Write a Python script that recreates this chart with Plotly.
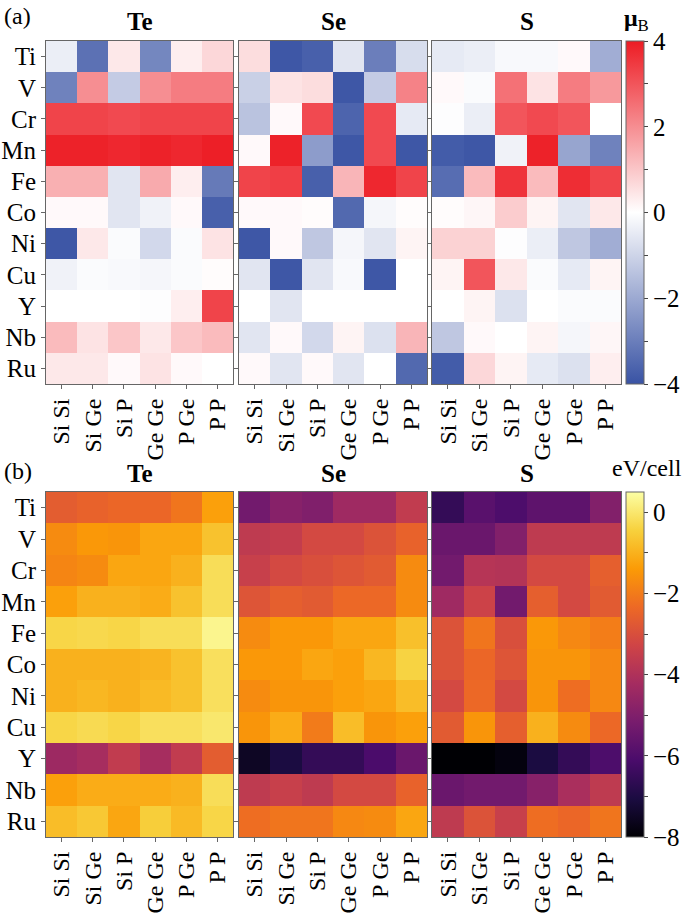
import plotly.graph_objects as go

metals = ["Ti", "V", "Cr", "Mn", "Fe", "Co", "Ni", "Cu", "Y", "Nb", "Ru"]
pairs = ["Si Si", "Si Ge", "Si P", "Ge Ge", "P Ge", "P P"]
chalcogens = ["Te", "Se", "S"]

# (a) magnetic moments (mu_B)
mag_Te = [
    [-0.4, -3.3, 0.4, -2.8, 0.3, 0.7],
    [-2.9, 2.0, -1.2, 2.0, 2.3, 2.3],
    [3.3, 3.3, 3.2, 3.3, 3.3, 3.3],
    [3.9, 3.9, 3.8, 3.9, 3.8, 3.95],
    [1.4, 1.4, -0.6, 1.5, 0.3, -3.1],
    [0.1, 0.1, -0.6, -0.3, 0.1, -3.7],
    [-3.9, 0.4, -0.1, -0.9, -0.1, 0.5],
    [-0.3, -0.1, -0.15, -0.2, -0.1, 0.05],
    [0.0, 0.0, 0.0, -0.05, 0.3, 3.3],
    [1.2, 0.5, 1.0, 0.4, 1.0, 1.2],
    [0.4, 0.4, 0.1, 0.5, 0.1, 0.0],
]
mag_Se = [
    [0.6, -3.9, -3.7, -0.6, -3.0, -0.8],
    [-1.1, 0.5, 0.6, -3.9, -1.2, 2.2],
    [-1.4, 0.1, 3.2, -3.6, 3.2, -0.5],
    [0.1, 3.9, -2.3, -3.9, 3.2, -3.9],
    [3.3, 3.4, -3.7, 1.3, 3.8, 3.3],
    [0.1, 0.1, 0.05, -3.5, -0.2, 0.05],
    [-3.9, 0.1, -1.3, -0.2, -0.6, 0.2],
    [-0.6, -3.9, -0.6, -0.15, -3.9, 0.0],
    [0.0, -0.6, 0.0, 0.0, 0.0, 0.0],
    [-0.6, 0.1, -0.9, 0.2, -0.7, 1.3],
    [0.1, -0.6, 0.1, -0.6, 0.0, -3.5],
]
mag_S = [
    [-0.5, -0.4, -0.15, -0.15, 0.1, -1.9],
    [0.1, -0.1, 2.5, 0.5, 2.3, 1.8],
    [-0.05, -0.4, 3.0, 3.2, 3.0, 0.0],
    [-3.8, -3.9, -0.3, 3.9, -2.1, -2.9],
    [-3.4, 1.2, 3.6, 1.2, 3.7, 3.3],
    [0.05, 0.15, 0.9, 0.2, -0.6, 0.4],
    [0.8, 0.8, -0.05, -0.4, -1.3, -1.9],
    [0.2, 3.0, 0.4, -0.1, -0.5, 0.2],
    [0.0, 0.2, -0.7, 0.0, -0.1, -0.1],
    [-1.3, 0.1, 0.0, 0.2, -0.2, 0.15],
    [-3.8, 0.7, 0.2, -0.5, -0.7, 0.3],
]

# (b) energies (eV/cell)
en_Te = [
    [-2.65, -2.5, -2.4, -2.4, -2.1, -1.3],
    [-1.7, -1.45, -1.5, -1.2, -1.2, -0.7],
    [-1.8, -1.7, -1.2, -1.2, -1.0, -0.2],
    [-1.3, -1.0, -1.0, -1.1, -0.7, -0.2],
    [-0.35, -0.3, -0.35, -0.2, -0.2, 0.3],
    [-1.0, -1.0, -1.0, -0.95, -0.7, -0.15],
    [-1.0, -0.9, -1.0, -0.85, -0.7, -0.15],
    [-0.35, -0.25, -0.35, -0.15, -0.15, 0.0],
    [-4.4, -4.2, -3.6, -4.2, -3.6, -2.65],
    [-1.3, -1.1, -1.1, -1.1, -1.0, -0.2],
    [-0.8, -0.6, -1.2, -0.5, -0.85, -0.35],
]
en_Se = [
    [-5.3, -4.85, -5.0, -4.35, -4.35, -3.6],
    [-3.65, -3.55, -3.15, -3.15, -2.9, -2.5],
    [-3.45, -3.15, -3.0, -2.85, -2.7, -1.7],
    [-2.85, -2.6, -2.7, -2.35, -2.35, -1.7],
    [-1.7, -1.45, -1.45, -1.2, -1.2, -0.75],
    [-1.45, -1.45, -1.2, -1.3, -0.9, -0.4],
    [-1.7, -1.5, -1.5, -1.3, -1.2, -0.8],
    [-1.5, -1.1, -2.0, -0.8, -1.5, -1.3],
    [-7.5, -7.05, -6.55, -6.55, -6.1, -5.45],
    [-3.65, -3.45, -3.65, -3.15, -3.15, -2.5],
    [-2.25, -2.1, -2.1, -1.75, -1.7, -1.2],
]
en_S = [
    [-6.55, -5.8, -6.05, -5.7, -5.7, -4.95],
    [-5.45, -5.45, -4.95, -3.65, -3.65, -3.65],
    [-5.3, -3.85, -3.9, -3.15, -3.15, -2.6],
    [-4.35, -3.35, -5.3, -2.6, -3.15, -2.7],
    [-2.9, -2.1, -3.0, -1.45, -1.75, -1.95],
    [-2.9, -2.4, -2.85, -1.5, -1.5, -1.75],
    [-3.15, -2.35, -3.15, -1.5, -2.25, -1.75],
    [-2.7, -1.5, -2.6, -1.0, -1.7, -2.35],
    [-8.0, -8.0, -7.85, -7.05, -6.55, -6.05],
    [-5.45, -5.3, -5.3, -4.85, -4.1, -3.65],
    [-3.65, -2.9, -3.45, -2.25, -2.4, -2.1],
]

W, H = 685, 915
FONT = "Liberation Serif"

def px_x(v):
    return v / W

def px_y(v):
    return 1 - v / H

x_edges = [(46, 233), (239, 427), (432, 621)]
y_edges = [(41, 384), (492, 837)]

mag_cs = [[0.0, "#3953a4"], [0.5, "#ffffff"], [1.0, "#ed1c24"]]

fig = go.Figure()
data_sets = [[mag_Te, mag_Se, mag_S], [en_Te, en_Se, en_S]]
axis_idx = 0
for r in range(2):
    for c in range(3):
        axis_idx += 1
        suffix = "" if axis_idx == 1 else str(axis_idx)
        fig.add_trace(go.Heatmap(
            z=data_sets[r][c], x=pairs, y=metals,
            coloraxis="coloraxis" if r == 0 else "coloraxis2",
            xaxis="x" + suffix, yaxis="y" + suffix,
        ))
        x0, x1 = x_edges[c]
        yt, yb = y_edges[r]
        common = dict(showline=True, mirror=True, linecolor="#666666", linewidth=1,
                      ticks="outside", ticklen=4, tickcolor="#666666",
                      showgrid=False, zeroline=False, automargin=False)
        fig.layout["xaxis" + suffix] = dict(
            domain=[px_x(x0), px_x(x1)], anchor="y" + suffix,
            tickangle=-90, tickfont=dict(family=FONT, size=24, color="black"), **common)
        fig.layout["yaxis" + suffix] = dict(
            domain=[px_y(yb), px_y(yt)], anchor="x" + suffix,
            autorange="reversed", showticklabels=(c == 0),
            tickfont=dict(family=FONT, size=25, color="black"), **common)

cb_common = dict(thickness=18, thicknessmode="pixels", lenmode="fraction",
                 x=px_x(626), xanchor="left", yanchor="top", xpad=0, ypad=0,
                 outlinecolor="#666666", outlinewidth=1,
                 ticks="outside", ticklen=4, tickcolor="#444444",
                 tick0=0, dtick=1, ticklabelstep=2,
                 tickfont=dict(family=FONT, size=25, color="black"))

fig.update_layout(
    width=W, height=H,
    margin=dict(l=0, r=0, t=0, b=0),
    paper_bgcolor="white", plot_bgcolor="white",
    font=dict(family=FONT, color="black"),
    coloraxis=dict(colorscale=mag_cs, cmin=-4, cmax=4,
                   colorbar=dict(len=(384 - 41) / H, y=px_y(41), **cb_common)),
    coloraxis2=dict(colorscale="Inferno", cmin=-8, cmax=0.5,
                    colorbar=dict(len=(837 - 492) / H, y=px_y(492), **cb_common)),
)

annotations = []
for r, ytitle in enumerate([22, 473]):
    for c, name in enumerate(chalcogens):
        x0, x1 = x_edges[c]
        annotations.append(dict(text="<b>%s</b>" % name, x=px_x((x0 + x1) / 2), y=px_y(ytitle),
                                xref="paper", yref="paper", showarrow=False,
                                xanchor="center", yanchor="middle",
                                font=dict(family=FONT, size=25, color="black")))
annotations.append(dict(text="(a)", x=px_x(2), y=px_y(16), xref="paper", yref="paper",
                        showarrow=False, xanchor="left", yanchor="middle",
                        font=dict(family=FONT, size=24, color="black")))
annotations.append(dict(text="(b)", x=px_x(2), y=px_y(471), xref="paper", yref="paper",
                        showarrow=False, xanchor="left", yanchor="middle",
                        font=dict(family=FONT, size=24, color="black")))
annotations.append(dict(text="<b>\u03bc</b><sub>B</sub>", x=px_x(622), y=px_y(20), xref="paper", yref="paper",
                        showarrow=False, xanchor="left", yanchor="middle",
                        font=dict(family=FONT, size=24, color="black")))
annotations.append(dict(text="eV/cell", x=px_x(684), y=px_y(468), xref="paper", yref="paper",
                        showarrow=False, xanchor="right", yanchor="middle",
                        font=dict(family=FONT, size=24, color="black")))
fig.update_layout(annotations=annotations)

fig.write_html("out.html", config={"displayModeBar": False},
               post_script="document.body.style.margin='0';document.body.style.overflow='hidden';")
